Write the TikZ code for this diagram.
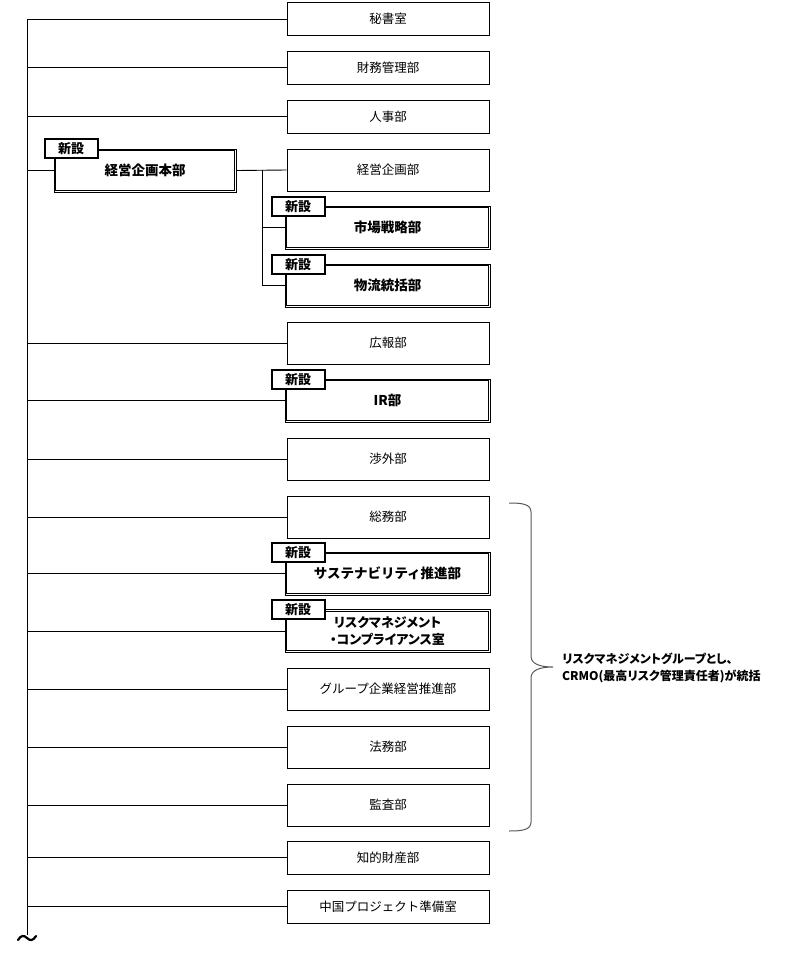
\documentclass[tikz,border=0pt]{standalone}
\usepackage{fontspec}
\setmainfont{Noto Sans CJK JP}
\newfontfamily\bracefont[RawFeature=+palt]{Noto Sans CJK JP}
\usetikzlibrary{calc,shadows}
\begin{document}
\begin{tikzpicture}[x=1pt,y=-1pt,
  box/.style={draw, line width=0.9pt, minimum width=202pt, minimum height=#1, inner sep=0pt, fill=white,
    font=\fontsize{12.5}{15}\selectfont},
  newbox/.style={draw, line width=0.9pt, minimum width=205pt, minimum height=#1,
    inner sep=0pt, fill=white, align=center, font=\fontsize{13.5}{16.5}\selectfont\bfseries},
  inner/.style={draw, line width=1.1pt},
  tag/.style={draw, line width=2.3pt, fill=white, minimum width=53pt, minimum height=19pt, inner sep=0pt,
    anchor=north west, font=\fontsize{13}{14}\selectfont\bfseries,
    drop shadow={shadow xshift=1pt, shadow yshift=-1pt, fill=black!35}},
  link/.style={line width=0.9pt},
  bracestyle/.style={draw=black!65, line width=1pt}
]
\useasboundingbox (0,0) rectangle (802,958);

% trunk
\coordinate (top) at (27,19);
\coordinate (bot) at (27,935);
\draw[link] (top) -- (bot);

% boxes
\node[box=33pt] (b1) at (388,19) {秘書室};
\node[box=33pt] (b2) at (388,67.5) {財務管理部};
\node[box=33pt] (b3) at (388,116.5) {人事部};
\node[box=42pt] (b4) at (388,170) {経営企画部};
\node[newbox=43pt] (b5) at (387.5,227.5) {市場戦略部};
\node[newbox=43pt] (b6) at (387.5,285.5) {物流統括部};
\node[box=42pt] (b7) at (388,343) {広報部};
\node[newbox=43pt] (b8) at (387.5,400.5) {IR部};
\node[box=42pt] (b9) at (388,459) {渉外部};
\node[box=42pt] (b10) at (388,517) {総務部};
\node[newbox=43pt] (b11) at (387.5,573.5) {サステナビリティ推進部};
\node[newbox=43pt, font=\bracefont\fontsize{13}{17.5}\selectfont\bfseries] (b12) at (387.5,631)
  {リスクマネジメント\\・コンプライアンス室};
\node[box=42pt] (b13) at (388,689) {グループ企業経営推進部};
\node[box=42pt] (b14) at (388,747) {法務部};
\node[box=42pt] (b15) at (388,805) {監査部};
\node[box=33pt] (b16) at (388,857.5) {知的財産部};
\node[box=33pt] (b17) at (388,906.5) {中国プロジェクト準備室};

\node[newbox=43pt, minimum width=182pt] (hq) at (145,170.5) {経営企画本部};

% inner borders of the double boxes
\foreach \b in {hq,b5,b6,b8,b11,b12}
  \draw[inner] ($(\b.north west)+(2.2,2.2)$) rectangle ($(\b.south east)+(-2.2,-2.2)$);

% branches from trunk
\draw[link] (top) -- (b1.west);
\foreach \b in {b2,b3,b7,b8,b9,b10,b11,b12,b13,b14,b15,b16,b17}
  \draw[link] (\b.west -| top) -- (\b.west);
\draw[link] (hq.west -| top) -- (hq.west);

% sub branches
\coordinate (j) at (262,170);
\draw[link] (hq.east) -- (b4.west);
\draw[link] (j) |- (b6.west);
\draw[link] (j |- b5.west) -- (b5.west);

% tags
\node[tag] (t0) at ($(hq.north west)+(-10,-11)$) {新設};
\node[tag] (t1) at ($(b5.north west)+(-14,-10)$) {新設};
\node[tag] (t2) at ($(b6.north west)+(-14,-10)$) {新設};
\node[tag] (t3) at ($(b8.north west)+(-14,-10)$) {新設};
\node[tag] (t4) at ($(b11.north west)+(-14,-10)$) {新設};
\node[tag] (t5) at ($(b12.north west)+(-14,-10)$) {新設};

% tilde
\draw[line width=2.2pt, line cap=round] (18,940) .. controls (21,935) and (24,935) .. (27,938)
  .. controls (30,941) and (33,941) .. (36,936);

% brace
\draw[bracestyle] (509,503) .. controls (522,503) and (531,504) .. (531,512)
  -- (531,656) .. controls (531,664) and (540,667) .. (553,667)
  .. controls (540,667) and (531,670) .. (531,678)
  -- (531,822) .. controls (531,830) and (522,831) .. (509,831);
\node[anchor=west, align=left, inner sep=0pt, font=\bracefont\fontsize{12}{17}\selectfont\bfseries] (note) at (562,668)
  {リスクマネジメントグループとし、\\CRMO(最高リスク管理責任者)が統括};
\end{tikzpicture}
\end{document}
